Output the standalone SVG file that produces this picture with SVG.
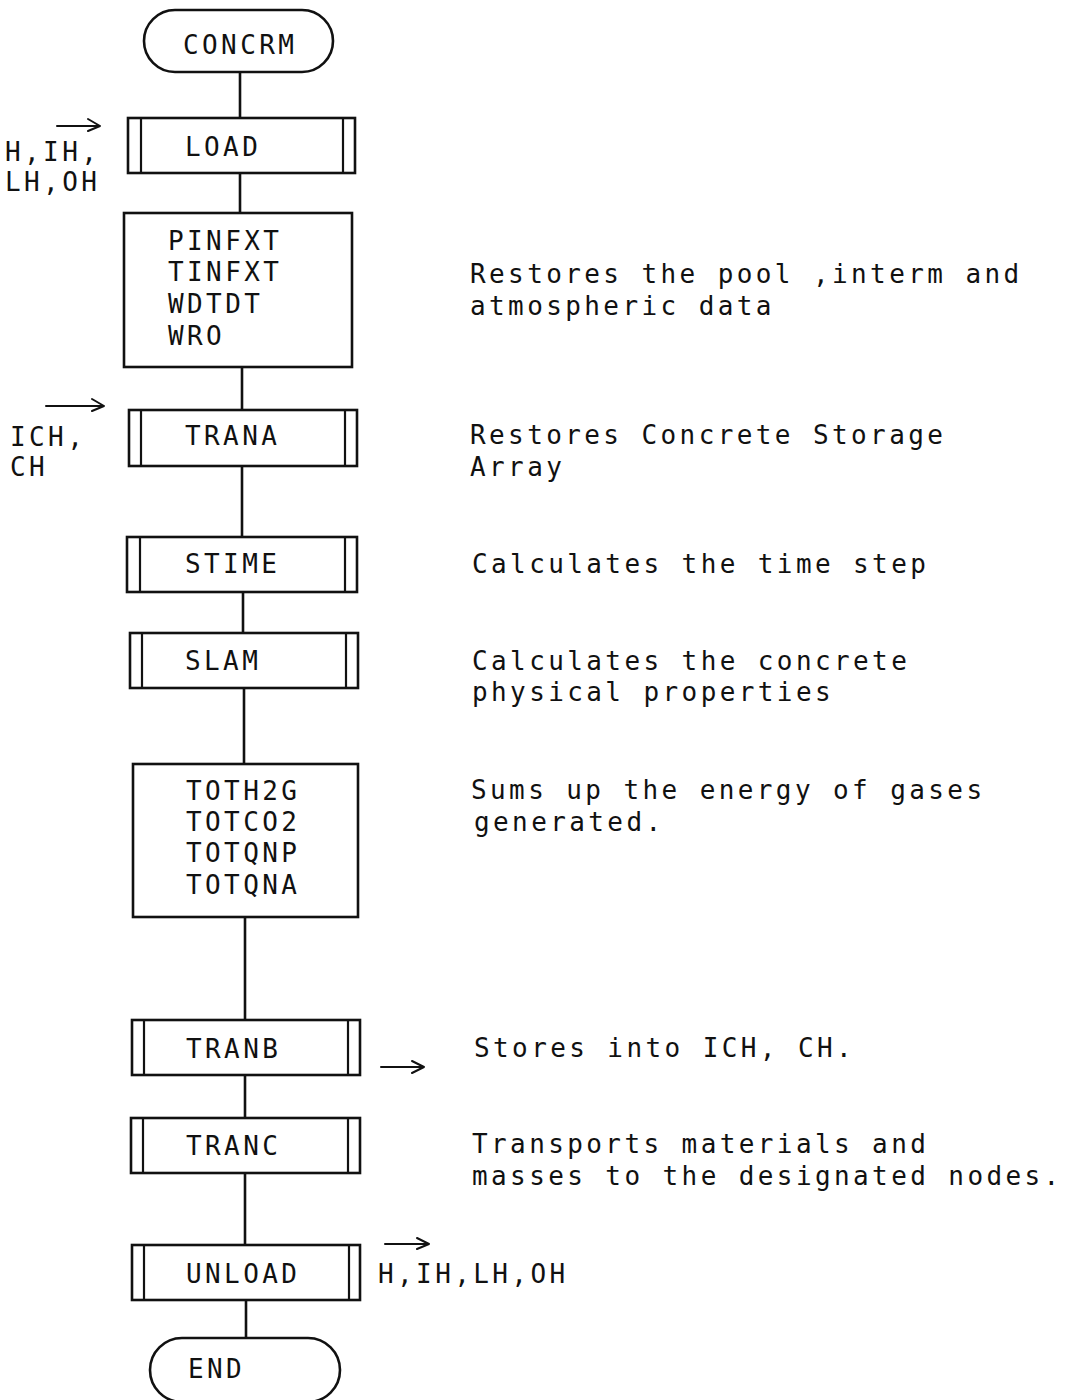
<svg xmlns="http://www.w3.org/2000/svg" width="1068" height="1400" viewBox="0 0 1068 1400">
<style>
.b{fill:#fff;stroke:#111;stroke-width:2.6}
.s{fill:none;stroke:#111;stroke-width:2.2}
.c{fill:none;stroke:#111;stroke-width:2.6}
.a{fill:none;stroke:#111;stroke-width:2;stroke-linecap:round;stroke-linejoin:round}
text{font-family:"DejaVu Sans Mono","Liberation Mono",monospace;font-size:26px;letter-spacing:3.4px;fill:#111}
</style>
<rect width="1068" height="1400" fill="#fff"/>
<g id="connectors">
<line class="c" x1="240" y1="72" x2="240" y2="118"/>
<line class="c" x1="240" y1="173" x2="240" y2="213"/>
<line class="c" x1="242" y1="367" x2="242" y2="410"/>
<line class="c" x1="242" y1="466" x2="242" y2="537"/>
<line class="c" x1="243" y1="592" x2="243" y2="633"/>
<line class="c" x1="244" y1="688" x2="244" y2="764"/>
<line class="c" x1="245" y1="917" x2="245" y2="1020"/>
<line class="c" x1="245" y1="1075" x2="245" y2="1118"/>
<line class="c" x1="245" y1="1173" x2="245" y2="1245"/>
<line class="c" x1="246" y1="1300" x2="246" y2="1338"/>
</g>
<g id="concrm"><rect class="b" x="144" y="10" width="189" height="62" rx="31"/><text x="183" y="54">CONCRM</text></g>
<g id="load"><rect class="b" x="128" y="118" width="227" height="55"/><line class="s" x1="141" y1="118" x2="141" y2="173"/><line class="s" x1="343" y1="118" x2="343" y2="173"/><text x="185" y="156">LOAD</text></g>
<g id="load-in"><path class="a" d="M57 126 H100 M88 119 L100 126 L88 131"/><text x="5" y="161">H,IH,</text><text x="5" y="191">LH,OH</text></g>
<g id="pinfxt"><rect class="b" x="124" y="213" width="228" height="154"/><text x="168" y="250">PINFXT</text><text x="168" y="281">TINFXT</text><text x="168" y="313">WDTDT</text><text x="168" y="345">WRO</text></g>
<g id="trana"><rect class="b" x="129" y="410" width="228" height="56"/><line class="s" x1="141" y1="410" x2="141" y2="466"/><line class="s" x1="345" y1="410" x2="345" y2="466"/><text x="185" y="445">TRANA</text></g>
<g id="trana-in"><path class="a" d="M46 406 H104 M92 399 L104 406 L92 411"/><text x="10" y="446">ICH,</text><text x="10" y="476">CH</text></g>
<g id="stime"><rect class="b" x="127" y="537" width="230" height="55"/><line class="s" x1="140" y1="537" x2="140" y2="592"/><line class="s" x1="345" y1="537" x2="345" y2="592"/><text x="185" y="573">STIME</text></g>
<g id="slam"><rect class="b" x="130" y="633" width="228" height="55"/><line class="s" x1="142" y1="633" x2="142" y2="688"/><line class="s" x1="346" y1="633" x2="346" y2="688"/><text x="185" y="670">SLAM</text></g>
<g id="toth2g"><rect class="b" x="133" y="764" width="225" height="153"/><text x="186" y="800">TOTH2G</text><text x="186" y="831">TOTCO2</text><text x="186" y="862">TOTQNP</text><text x="186" y="894">TOTQNA</text></g>
<g id="tranb"><rect class="b" x="132" y="1020" width="228" height="55"/><line class="s" x1="144" y1="1020" x2="144" y2="1075"/><line class="s" x1="348" y1="1020" x2="348" y2="1075"/><text x="186" y="1058">TRANB</text></g>
<g id="tranb-out"><path class="a" d="M381 1067 H424 M412 1061 L424 1067 L412 1073"/></g>
<g id="tranc"><rect class="b" x="131" y="1118" width="229" height="55"/><line class="s" x1="143" y1="1118" x2="143" y2="1173"/><line class="s" x1="348" y1="1118" x2="348" y2="1173"/><text x="186" y="1155">TRANC</text></g>
<g id="unload"><rect class="b" x="132" y="1245" width="228" height="55"/><line class="s" x1="144" y1="1245" x2="144" y2="1300"/><line class="s" x1="349" y1="1245" x2="349" y2="1300"/><text x="186" y="1283">UNLOAD</text></g>
<g id="unload-out"><path class="a" d="M385 1244 H429 M417 1238 L429 1244 L417 1249"/><text x="378" y="1283">H,IH,LH,OH</text></g>
<g id="end"><rect class="b" x="150" y="1338" width="190" height="64" rx="32"/><text x="188" y="1378">END</text></g>
<g id="notes">
<text x="470" y="283">Restores the pool ,interm and</text>
<text x="470" y="315">atmospheric data</text>
<text x="470" y="444">Restores Concrete Storage</text>
<text x="470" y="476">Array</text>
<text x="472" y="573">Calculates the time step</text>
<text x="472" y="670">Calculates the concrete</text>
<text x="472" y="701">physical properties</text>
<text x="471" y="799">Sums up the energy of gases</text>
<text x="474" y="831">generated.</text>
<text x="474" y="1057">Stores into ICH, CH.</text>
<text x="472" y="1153">Transports materials and</text>
<text x="472" y="1185">masses to the designated nodes.</text>
</g>
</svg>
